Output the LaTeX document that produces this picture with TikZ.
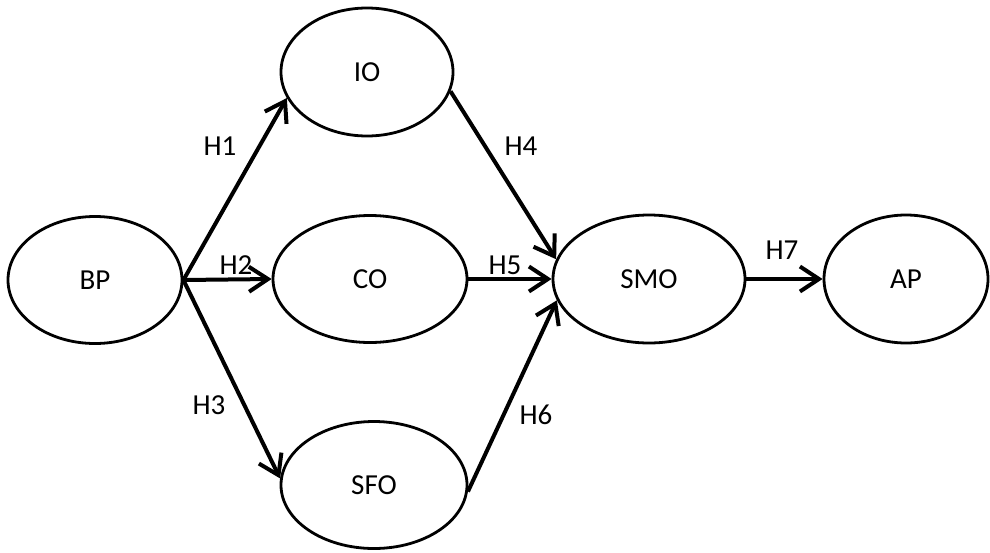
\documentclass[tikz,border=0pt]{standalone}
\usepackage{fontspec}
\setmainfont{Carlito}
\usetikzlibrary{shapes.geometric,arrows.meta}

\tikzset{
  construct/.style={ellipse, draw, line width=2.8pt, inner sep=0pt,
    font=\fontsize{29}{33}\selectfont},
  path link/.style={line width=4pt,
    -{Straight Barb[length=19pt,width=25pt,line width=4pt]}},
  hyp/.style={font=\fontsize{29}{33}\selectfont, inner sep=0pt}
}

\begin{document}
\begin{tikzpicture}[x=1pt,y=-1pt]
  \useasboundingbox (0,0) rectangle (990,552);

  % latent constructs
  \node[construct, minimum width=174pt, minimum height=127pt] (BP)  at (95,280)  {BP};
  \node[construct, minimum width=172pt, minimum height=128pt] (IO)  at (367,72)  {IO};
  \node[construct, minimum width=194pt, minimum height=127pt] (CO)  at (370,279) {CO};
  \node[construct, minimum width=186pt, minimum height=127pt] (SFO) at (374,485) {SFO};
  \node[construct, minimum width=192pt, minimum height=128pt] (SMO) at (649,279) {SMO};
  \node[construct, minimum width=164pt, minimum height=128pt] (AP)  at (906,279) {AP};

  % hypothesised paths
  \draw[path link] (BP.east) -- (IO.198);
  \draw[path link] (BP.east) -- (CO.west);
  \draw[path link] (BP.east) -- (SFO.176);
  \draw[path link] (IO.347) -- (SMO.168);
  \draw[path link] (CO.east) -- (SMO.west);
  \draw[path link] (SFO.356) -- (SMO.193);
  \draw[path link] (SMO.east) -- (AP.west);

  % path labels
  \node[hyp] (h1) at (220,146) {H1};
  \node[hyp] (h2) at (236,265) {H2};
  \node[hyp] (h3) at (209,405) {H3};
  \node[hyp] (h4) at (521,146) {H4};
  \node[hyp] (h5) at (505,265) {H5};
  \node[hyp] (h6) at (536,415) {H6};
  \node[hyp] (h7) at (782,250) {H7};
\end{tikzpicture}
\end{document}
